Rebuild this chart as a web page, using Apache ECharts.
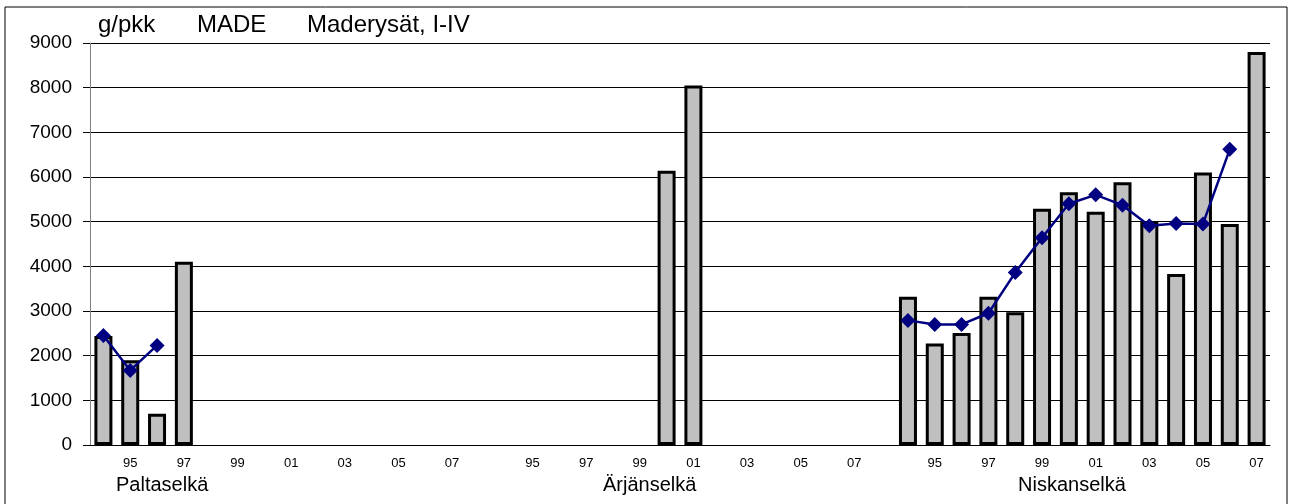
<!DOCTYPE html>
<html>
<head>
<meta charset="utf-8">
<script src="https://cdn.jsdelivr.net/npm/echarts@6/dist/echarts.min.js"></script>
<style>
html, body { margin: 0; padding: 0; background: #fff; }
#chart-box { width: 1290px; height: 504px; }
</style>
</head>
<body>
<div id="chart-box"></div>
<script>
// years per lake, with one empty slot between the lakes
var years = ['94', '95', '96', '97', '98', '99', '00', '01', '02', '03', '04', '05', '06', '07'];
var categories = years.concat([''], years, [''], years);

// bars: yearly catch, g/pkk
var paltaBars = [2440, 1900, 700, 4100, null, null, null, null, null, null, null, null, null, null];
var arjanBars = [null, null, null, null, null, null, 6140, 8050, null, null, null, null, null, null];
var niskaBars = [3320, 2270, 2510, 3320, 2970, 5290, 5660, 5220, 5880, 5000, 3830, 6100, 4950, 8800];

// line: running mean
var paltaLine = [2450, 1670, 2230, null, null, null, null, null, null, null, null, null, null, null];
var arjanLine = [null, null, null, null, null, null, null, null, null, null, null, null, null, null];
var niskaLine = [2790, 2700, 2700, 2950, 3860, 4640, 5400, 5600, 5370, 4910, 4960, 4950, 6620, null];

var barData = paltaBars.concat([null], arjanBars, [null], niskaBars);
var lineData = paltaLine.concat([null], arjanLine, [null], niskaLine);

var lakeNames = ['Paltaselkä', 'Ärjänselkä', 'Niskanselkä'];
var titleParts = ['g/pkk', 'MADE', 'Maderysät, I-IV'];

var font = 'Arial, "Liberation Sans", sans-serif';

var myChart = echarts.init(document.getElementById('chart-box'));
var option = {
    animation: false,
    backgroundColor: '#fff',
    grid: {
        left: 90,
        right: 20,
        top: 43,
        bottom: 59
    },
    xAxis: {
        type: 'category',
        data: categories,
        axisLine: {
            lineStyle: { color: '#000', width: 1 }
        },
        axisTick: { show: false },
        axisLabel: {
            interval: function (index, value) {
                return value !== '' && Number(value) % 2 === 1;
            },
            color: '#000',
            fontFamily: font,
            fontSize: 13,
            margin: 12
        },
        splitLine: { show: false }
    },
    yAxis: {
        type: 'value',
        min: 0,
        max: 9000,
        interval: 1000,
        axisLine: {
            show: true,
            lineStyle: { color: '#808080', width: 1 }
        },
        axisTick: {
            show: true,
            length: 7,
            lineStyle: { color: '#000' }
        },
        axisLabel: {
            formatter: function (v) { return String(v); },
            color: '#000',
            fontFamily: font,
            fontSize: 19,
            margin: 18
        },
        splitLine: {
            lineStyle: { color: '#000', width: 1 }
        }
    },
    series: [{
        name: 'saalis',
        type: 'bar',
        data: barData,
        barWidth: 18,
        itemStyle: {
            color: '#c0c0c0',
            borderColor: '#000',
            borderWidth: 3
        },
        z: 2
    }, {
        name: 'keskiarvo',
        type: 'line',
        data: lineData,
        symbol: 'diamond',
        symbolSize: 15,
        lineStyle: { color: '#000080', width: 2.5 },
        itemStyle: { color: '#000080' },
        z: 3
    }],
    graphic: [{
        type: 'rect',
        shape: { x: 5, y: 7, width: 1282, height: 500 },
        style: { fill: 'none', stroke: '#000', lineWidth: 1 },
        silent: true
    }, {
        type: 'text', left: 98, top: 13,
        style: { text: titleParts[0], font: '24px ' + font, fill: '#000' }
    }, {
        type: 'text', left: 197, top: 13,
        style: { text: titleParts[1], font: '24px ' + font, fill: '#000' }
    }, {
        type: 'text', left: 307, top: 13,
        style: { text: titleParts[2], font: '24px ' + font, fill: '#000' }
    }, {
        type: 'text', left: 116, top: 475,
        style: { text: lakeNames[0], font: '20px ' + font, fill: '#000' }
    }, {
        type: 'text', left: 603, top: 475,
        style: { text: lakeNames[1], font: '20px ' + font, fill: '#000' }
    }, {
        type: 'text', left: 1018, top: 475,
        style: { text: lakeNames[2], font: '20px ' + font, fill: '#000' }
    }]
};
myChart.setOption(option);
</script>
</body>
</html>
